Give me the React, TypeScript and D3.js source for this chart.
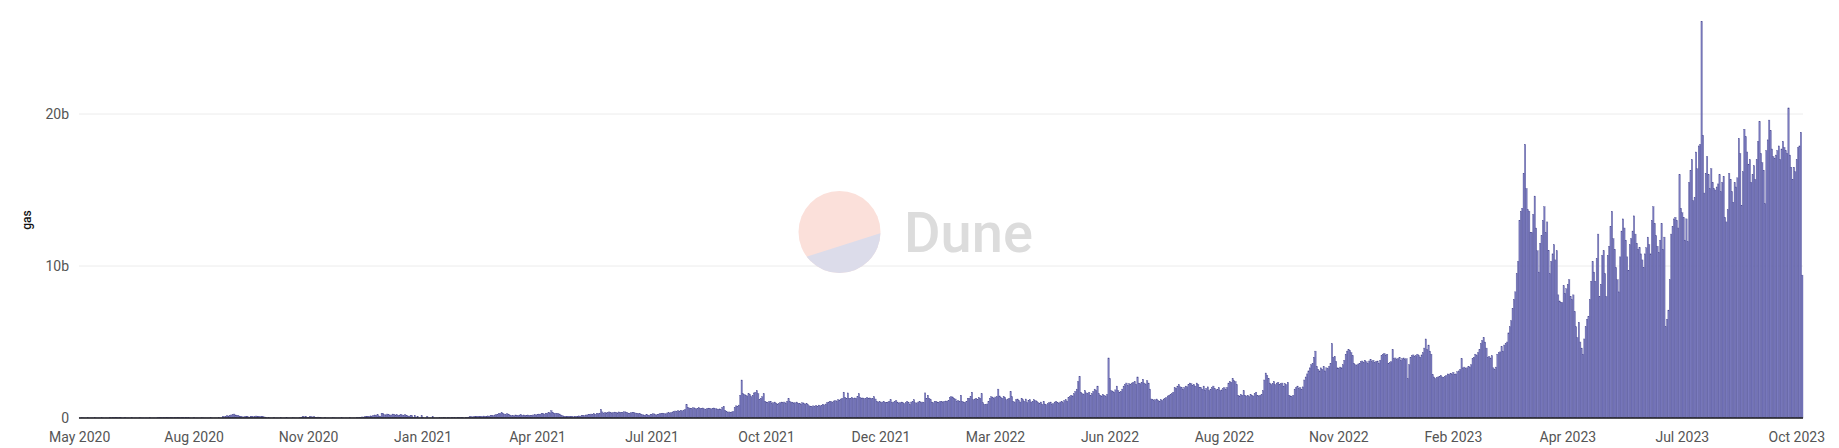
import React from "react";
import * as d3 from "d3";

// Daily gas used (billions), in chronological order
const gasMay2020toAug2021 = [
  0.01,0.01,0.02,0.01,0.01,0.01,0.02,0.01,0.01,0.01,0.01,0.02,0.01,0.01,0.01,0.01,0.02,0.01,0.01,0.01,0.01,0.01,
  0.03,0.02,0.04,0.03,0.02,0.03,0.02,0.03,0.02,
  0.01,0.01,0.02,0.01,0.01,0.01,0.01,0.02,0.01,0.01,0.01,0.01,0.01,0.02,0.01,0.01,0.01,0.01,0.01,0.01,0.02,0.01,0.01,0.01,0.01,0.01,
  0.03,0.02,0.03,0.04,0.02,0.03,0.03,0.02,0.04,0.03,0.02,0.03,0.02,0.03,0.04,0.03,0.02,0.02,0.03,0.02,0.03,0.02,0.02,
  0.01,0.01,0.01,0.02,0.01,0.01,0.01,0.01,0.01,0.02,0.01,0.01,0.01,0.01,0.01,0.02,0.01,0.01,0.01,0.01,0.01,0.02,0.01,0.01,
  0.08,0.1,0.12,0.15,0.13,0.18,0.2,0.22,0.26,0.2,0.15,0.18,0.12,0.1,0.08,
  0.06,0.1,0.12,0.08,0.05,0.1,0.12,0.09,0.1,0.13,0.11,0.08,0.1,0.12,0.09,0.07,0.05,
  0.01,0.02,0.01,0.01,0.01,0.02,0.01,0.01,0.01,0.01,0.02,0.01,0.01,0.01,0.02,0.01,0.01,0.01,0.01,0.02,0.01,0.01,0.01,0.01,
  0.04,0.06,0.1,0.08,0.12,0.05,0.03,0.08,0.1,0.06,0.09,0.04,0.03,0.06,0.05,0.02,
  0.01,0.01,0.02,0.01,0.01,0.01,0.01,0.01,0.02,0.01,0.01,0.01,0.01,0.01,0.02,0.01,0.01,0.01,0.01,0.01,0.02,0.01,0.01,0.01,0.01,0.02,0.03,0.04,
  0.05,0.07,0.06,0.1,0.08,0.12,0.1,0.14,0.12,0.18,0.2,0.16,0.22,0.14,0.12,0.28,0.3,0.22,0.2,0.26,0.24,0.18,0.2,0.26,0.24,0.2,0.22,0.18,0.2,0.24,0.2,0.18,0.22,0.16,0.14,0.12,0.16,
  0.15,0.05,0.18,0.02,0.12,0.01,0.01,0.15,0.02,0.01,0.01,0.12,0.01,0.01,0.01,0.1,0.01,0.01,0.01,0.01,
  0.02,0.01,0.02,0.03,0.02,0.01,0.02,0.02,0.01,0.02,0.03,0.02,0.01,0.02,0.02,0.03,0.02,0.02,0.01,0.03,0.04,
  0.06,0.08,0.1,0.07,0.09,0.1,0.08,0.12,0.1,0.09,0.11,0.13,0.1,0.12,0.14,0.12,0.15,0.18,0.16,0.2,0.22,
  0.24,0.28,0.3,0.35,0.3,0.26,0.22,0.28,0.25,0.2,
  0.16,0.18,0.14,0.2,0.18,0.16,0.2,0.22,0.18,0.2,0.16,0.18,0.2,0.17,0.15,0.18,0.2,0.22,0.2,0.24,0.26,
  0.25,0.28,0.3,0.26,0.32,0.3,0.36,0.34,0.48,0.38,0.3,0.32,0.28,0.3,0.26,0.2,0.16,
  0.12,0.1,0.08,0.1,0.12,0.09,0.1,0.08,0.11,0.1,0.12,0.14,0.12,0.15,0.18,0.16,0.2,
  0.2,0.24,0.22,0.26,0.24,0.28,0.25,0.3,0.28,0.32,
  0.57,0.4,
  0.3,0.36,0.34,0.38,0.4,0.35,0.33,0.37,0.39,0.36,0.34,0.4,0.38,0.35,0.37,0.41,0.39,0.36,0.3,0.32,0.35,0.38,0.36,0.33,0.31,0.28,0.3,
  0.26,0.22,0.2,0.18,0.24,0.2,0.17,0.22,0.25,0.28,0.24,0.2,0.22,0.26,0.3,0.28,0.32,0.3,0.27,0.33,0.35,0.32,0.36,0.4,
  0.42,0.46,0.44,0.48,0.45,0.5,0.47,0.52,0.55,0.88,
  0.7,0.66,0.64,0.62,0.68,0.65,0.6,0.63,0.67,0.64,0.62,0.66,0.6,0.58,0.62,0.65,0.63,0.6,0.64,0.66,0.62,0.6,0.58,0.6,
];

const gasAug2021toOct2022 = [
  0.55,0.7,0.77,
  0.5,0.42,0.38,0.4,0.36,0.4,0.44,
  0.7,0.8,0.78,0.85,
  1.5,2.5,
  1.6,1.55,1.5,1.45,1.6,1.55,1.4,1.5,1.65,1.7,1.8,1.6,
  1.2,1.3,1.4,
  1.6,
  1.1,1.05,1.0,1.08,1.1,0.95,1.0,1.05,0.98,0.92,0.95,1.0,1.05,
  1.0,1.05,0.98,1.1,1.27,1.08,1.05,1.02,0.98,1.0,1.05,0.97,0.95,0.92,1.0,0.98,0.9,0.95,0.88,
  0.8,0.78,0.75,0.8,0.76,0.82,0.78,0.85,0.8,0.84,0.9,0.86,0.92,
  1.0,1.05,1.1,1.08,1.0,1.12,1.15,1.1,1.2,1.18,1.25,1.3,
  1.7,1.35,1.3,1.65,1.3,1.28,1.35,1.3,1.32,1.28,1.4,1.6,1.35,1.3,1.32,1.28,1.3,1.35,1.3,1.32,1.28,1.3,1.4,1.25,
  1.1,1.05,1.08,1.0,1.05,1.1,1.02,1.0,1.05,1.1,1.2,1.0,1.05,1.1,1.15,1.05,0.98,1.0,1.05,
  1.0,0.95,1.0,1.1,1.0,0.9,1.05,1.1,1.2,1.0,0.95,1.05,1.1,1.0,1.05,1.0,
  1.65,1.3,1.5,1.3,1.2,
  1.05,1.0,1.08,1.1,1.05,1.02,1.1,1.08,1.05,1.1,1.12,1.1,1.15,
  1.35,1.4,1.38,1.3,1.25,
  1.1,1.15,1.1,1.5,1.1,1.05,1.0,1.1,1.3,
  1.3,1.4,1.7,1.2,1.25,1.3,1.2,1.35,1.3,1.6,
  1.0,0.9,0.88,0.92,1.1,
  1.3,1.4,1.35,1.3,1.38,1.4,1.9,1.45,1.35,1.3,1.4,1.35,
  1.2,1.25,1.3,
  1.75,
  1.4,1.1,1.0,1.2,1.25,1.15,1.05,1.3,1.2,1.1,1.25,1.0,1.15,1.2,1.05,1.1,1.2,1.15,1.1,
  1.0,0.95,1.05,0.9,1.1,0.92,0.88,0.95,1.0,1.05,0.9,0.95,1.05,1.1,1.0,0.98,1.05,1.1,1.0,1.15,1.2,1.1,
  1.35,1.4,1.5,1.45,1.6,1.75,1.9,
  2.4,2.74,
  1.7,1.6,1.55,1.8,1.65,1.6,1.7,1.5,1.6,1.75,1.9,1.8,2.1,
  1.6,1.5,1.45,1.55,1.5,1.4,1.55,
  3.95,
  2.6,
  1.8,1.75,1.7,1.85,2.1,1.8,1.7,1.75,1.9,
  2.1,2.2,2.3,2.15,2.25,2.2,2.3,2.35,2.4,2.2,2.7,2.3,2.25,2.35,2.55,2.3,2.2,2.45,2.3,1.9,
  1.25,1.2,1.15,1.2,1.25,1.15,1.1,1.2,1.15,1.25,1.3,1.35,
  1.45,1.5,1.55,1.6,1.7,
  2.0,1.95,2.1,2.2,2.05,2.0,1.9,2.0,2.1,2.05,
  2.2,2.3,2.25,2.15,2.2,2.1,2.3,2.2,2.0,
  2.0,1.9,2.1,1.85,1.95,2.05,1.8,1.9,2.0,2.1,1.95,1.85,1.9,2.0,1.8,1.85,1.95,2.0,1.9,2.0,
  2.3,2.4,2.35,2.6,2.45,2.4,2.2,
  1.5,1.45,1.55,1.5,1.8,1.5,1.45,1.5,1.4,1.55,1.5,1.45,1.6,1.7,1.5,1.45,1.5,1.55,1.8,
  2.5,2.96,2.8,
  2.6,2.3,2.2,2.25,2.4,2.2,2.3,2.35,2.2,2.25,2.3,2.1,2.25,2.2,2.35,
];

const gasOct2022toMay2023 = [
  1.5,1.45,1.4,1.5,
  1.9,2.0,2.1,1.95,2.0,1.9,2.05,
  2.5,2.7,2.9,3.1,3.3,3.5,3.6,
  4.0,4.4,
  3.4,3.2,3.1,3.3,3.2,3.4,3.1,3.3,3.25,3.4,3.6,
  4.9,4.0,4.05,3.7,
  3.3,3.25,3.35,3.3,3.5,3.8,
  4.2,4.4,4.5,4.45,4.3,4.1,
  3.6,3.5,3.45,3.55,3.6,
  3.7,3.75,3.65,3.8,3.7,3.6,3.75,3.85,3.7,3.8,3.65,3.7,3.75,3.6,3.8,
  4.1,4.2,4.25,4.15,4.2,
  3.6,3.65,3.7,
  4.5,
  3.9,3.95,3.85,3.9,4.0,3.8,3.9,3.95,3.85,3.9,
  2.6,3.5,
  4.0,4.1,4.15,4.05,4.1,4.2,4.1,4.0,4.15,4.3,4.6,
  5.2,4.5,4.8,4.4,4.2,
  2.85,2.7,
  2.6,2.65,2.7,2.75,2.8,2.7,2.65,2.75,2.8,
  2.9,2.85,2.95,2.9,3.0,2.85,2.9,3.05,3.1,3.2,3.9,
  3.3,3.35,3.25,3.3,3.4,3.35,3.5,
  3.9,4.0,4.2,4.1,4.3,4.5,
  4.9,5.1,5.3,5.0,4.6,
  4.0,4.05,3.95,4.1,
  3.3,3.2,3.35,
  4.2,4.3,4.35,4.7,4.4,
  4.8,4.9,5.0,
  5.6,6.0,6.4,
  7.2,7.8,8.3,
  9.5,10.3,
  13.0,13.6,13.8,
  16.1,
  18.0,15.1,13.7,13.6,12.2,12.2,13.4,14.6,12.5,11.0,
  9.6,11.5,12.0,13.0,13.9,12.2,12.9,11.0,9.5,10.3,
  10.8,11.4,10.4,11.0,8.1,7.7,7.6,7.6,8.7,8.2,
  8.5,8.8,9.1,8.0,7.8,8.1,7.0,6.0,5.3,6.3,
  5.0,4.6,4.2,5.2,6.0,6.5,6.7,7.8,9.0,10.3,
  9.6,9.0,10.5,12.1,
];

const gasMay2023toOct2023 = [
  8.0,8.8,10.7,11.0,9.5,8.0,10.7,11.3,12.6,13.6,
  11.8,11.1,9.9,9.1,8.3,10.6,12.3,13.1,12.5,11.7,
  10.6,9.7,11.4,11.8,12.3,13.3,12.1,11.5,11.1,11.2,
  10.8,10.4,9.9,10.8,11.2,11.9,11.4,10.8,13.0,13.9,
  12.8,12.0,11.3,10.9,11.7,12.8,11.1,11.9,6.0,6.5,
  7.1,9.1,12.1,12.6,13.1,13.2,13.0,12.5,16.0,13.8,
  13.5,13.2,11.7,13.1,11.6,15.5,16.3,17.0,14.3,14.5,
  17.5,16.4,17.9,18.0,26.1,18.6,14.8,16.1,17.2,16.0,
  15.1,16.4,15.5,15.1,15.0,15.2,15.4,16.0,14.9,15.5,
  15.9,13.2,12.9,13.7,16.1,15.7,14.9,14.2,15.5,15.2,
  15.8,18.4,17.4,14.0,16.2,19.0,18.5,17.5,16.7,17.0,
  15.5,16.0,16.6,15.7,17.0,18.2,19.5,17.4,16.8,16.3,
  14.1,17.6,18.3,19.6,18.9,17.7,17.2,17.1,17.3,17.6,
  17.9,17.0,17.7,18.2,17.8,17.6,17.4,20.4,17.3,16.5,
  15.7,16.5,16.2,17.0,17.8,17.9,18.8,9.4,
];

const xTickLabels = [
  "May 2020", "Aug 2020", "Nov 2020", "Jan 2021", "Apr 2021", "Jul 2021",
  "Oct 2021", "Dec 2021", "Mar 2022", "Jun 2022", "Aug 2022", "Nov 2022",
  "Feb 2023", "Apr 2023", "Jul 2023", "Oct 2023",
];
const xTickEvery = 83; // one label every 83 daily bars
const yTicks = [0, 10, 20];
const yAxisTitle = "gas";

const W = 1839;
const H = 448;
const M = { left: 79, right: 36, top: 20, bottom: 30 };

export default function App() {
  const gas = [
    ...gasMay2020toAug2021,
    ...gasAug2021toOct2022,
    ...gasOct2022toMay2023,
    ...gasMay2023toOct2023,
  ];
  const x = d3
    .scaleBand<number>()
    .domain(d3.range(gas.length))
    .range([M.left, W - M.right])
    .padding(0);
  const y = d3.scaleLinear().domain([0, 20]).range([418, 114]);
  const bw = x.bandwidth();
  const fmt = (v: number) => (v === 0 ? "0" : `${v}b`);
  const font = "Roboto, 'Liberation Sans', sans-serif";

  return (
    <div style={{ position: "absolute", left: 0, top: 0 }}>
      <svg width={W} height={H} style={{ display: "block", background: "#fff" }}>
        {/* gridlines */}
        {yTicks
          .filter((t) => t !== 0)
          .map((t) => (
            <line key={t} x1={M.left} x2={W - M.right} y1={y(t)} y2={y(t)} stroke="#ececec" strokeWidth={1} />
          ))}
        {/* watermark */}
        <g opacity={1}>
          <clipPath id="wm">
            <circle cx={839.5} cy={232} r={41} />
          </clipPath>
          <g clipPath="url(#wm)">
            <rect x={795} y={188} width={90} height={90} fill="#fbe0da" />
            <path d="M 790 262 L 890 230 L 890 280 L 790 280 Z" fill="#dcdcea" />
          </g>
          <text x={904} y={252} fontFamily={font} fontWeight={500} fontSize={56} fill="#dcdcdc">
            Dune
          </text>
        </g>
        {/* bars */}
        <g>
          {gas.map((v, i) => (
            <rect
              key={i}
              x={x(i)}
              y={y(v)}
              width={bw}
              height={Math.max(0, y(0) - y(v))}
              fill="#7b7bbf"
              stroke="#4f4f95"
              strokeWidth={0.35}
            />
          ))}
        </g>
        {/* zero axis */}
        <line x1={M.left} x2={W - M.right} y1={y(0)} y2={y(0)} stroke="#222" strokeWidth={1.5} />
        {/* y labels */}
        {yTicks.map((t) => (
          <text
            key={t}
            x={69}
            y={y(t)}
            dy="0.35em"
            textAnchor="end"
            fontFamily={font}
            fontSize={14}
            fill="#555"
          >
            {fmt(t)}
          </text>
        ))}
        <text
          transform={`translate(31,220) rotate(-90)`}
          textAnchor="middle"
          fontFamily={font}
          fontSize={12}
          fontWeight={500}
          fill="#111"
        >
          {yAxisTitle}
        </text>
        {/* x labels */}
        {xTickLabels.map((label, k) => {
          const idx = k * xTickEvery;
          return (
            <text
              key={label}
              x={(x(idx) ?? 0) + bw / 2}
              y={442}
              textAnchor="middle"
              fontFamily={font}
              fontSize={14}
              fill="#555"
            >
              {label}
            </text>
          );
        })}
      </svg>
    </div>
  );
}
